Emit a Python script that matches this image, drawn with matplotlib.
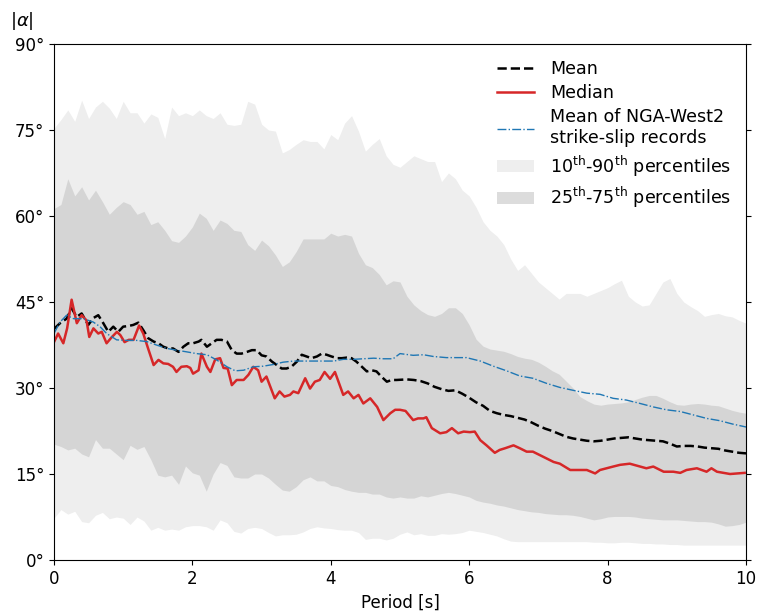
import numpy as np
import matplotlib
matplotlib.use("Agg")
import matplotlib.pyplot as plt
from matplotlib.ticker import FuncFormatter

# ---------------- data ----------------
band_T = np.round(np.arange(0, 10.001, 0.1), 1)

p90 = [75.3, 76.8, 78.5, 76.5, 80.2, 77.0, 79.0, 80.0, 78.8, 77.0,
       80.0, 78.0, 78.0, 76.2, 77.8, 77.2, 73.5, 79.0, 77.5, 78.0,
       77.5, 78.5, 77.5, 77.0, 78.0, 76.0, 75.8, 76.0, 80.0, 79.5,
       76.0, 75.0, 74.8, 71.0, 71.6, 72.5, 73.3, 73.0, 73.0, 71.7,
       74.2, 73.3, 76.2, 77.5, 74.8, 71.3, 72.5, 73.5, 70.5, 69.0,
       68.5, 69.5, 70.5, 70.0, 69.5, 69.5, 66.0, 67.5, 66.5, 64.5,
       63.5, 61.5, 59.0, 57.5, 56.5, 55.0, 52.5, 50.5, 51.5, 50.0,
       48.5, 47.5, 46.5, 45.5, 46.5, 46.5, 46.5, 46.0, 46.5, 47.0,
       47.5, 48.2, 48.8, 46.0, 45.0, 44.3, 44.5, 46.5, 48.5, 49.1,
       46.5, 45.0, 44.2, 43.5, 42.5, 42.8, 43.0, 42.6, 42.4, 41.8, 41.3]

p75 = [61.3, 62.0, 66.5, 63.5, 65.1, 62.8, 64.5, 62.5, 60.3, 61.5,
       62.5, 62.0, 60.3, 60.8, 58.5, 59.0, 57.5, 55.7, 55.4, 56.5,
       58.1, 60.5, 59.6, 57.5, 59.3, 58.7, 57.5, 57.3, 55.0, 54.0,
       55.8, 54.8, 53.2, 51.2, 52.0, 53.8, 56.0, 56.0, 56.0, 56.0,
       57.0, 56.5, 56.8, 56.5, 53.5, 51.5, 51.0, 49.8, 48.0, 48.7,
       48.5, 46.0, 44.5, 43.5, 42.8, 42.5, 43.0, 44.0, 44.0, 43.0,
       41.0, 38.5, 37.3, 36.8, 36.6, 36.4, 36.0, 35.5, 35.2, 35.0,
       34.5, 33.8, 33.0, 32.4, 31.2, 30.0, 28.5, 27.8, 27.2, 27.0,
       27.2, 27.3, 27.4, 27.6, 28.0, 28.4, 28.7, 28.7, 28.2, 27.6,
       27.1, 27.0, 27.2, 27.3, 27.2, 27.0, 26.9, 26.5, 26.1, 25.8, 25.6]

p25 = [20.2, 19.8, 19.2, 19.5, 18.5, 18.0, 21.0, 19.5, 19.5, 18.5,
       17.5, 20.0, 19.3, 19.8, 17.5, 14.8, 14.5, 14.8, 13.2, 16.4,
       15.2, 14.8, 12.0, 15.0, 17.0, 16.5, 14.5, 14.3, 14.3, 15.0,
       15.0, 14.3, 13.2, 12.2, 12.0, 12.8, 14.0, 14.5, 13.8, 13.8,
       13.0, 12.8, 12.3, 12.0, 11.8, 11.8, 11.5, 11.5, 11.0, 10.8,
       11.0, 10.8, 10.8, 11.2, 11.0, 11.3, 11.6, 11.8, 11.6, 11.3,
       11.0, 10.4, 10.1, 9.9, 9.6, 9.4, 9.1, 8.8, 8.6, 8.4,
       8.3, 8.1, 8.0, 7.9, 7.9, 7.8, 7.6, 7.3, 7.0, 7.2,
       7.5, 7.6, 7.6, 7.6, 7.5, 7.3, 7.2, 7.1, 7.0, 7.0,
       7.0, 6.9, 6.8, 6.7, 6.7, 6.6, 6.3, 5.9, 6.0, 6.2, 6.6]

p10 = [7.3, 8.8, 8.0, 8.5, 6.7, 6.5, 7.8, 8.3, 7.2, 7.5,
       7.3, 6.2, 7.5, 6.8, 5.2, 5.7, 5.2, 5.4, 5.2, 5.8,
       6.0, 6.0, 5.8, 5.2, 7.0, 6.5, 5.0, 4.7, 5.5, 5.7,
       5.5, 4.8, 4.2, 4.4, 4.4, 4.5, 4.9, 5.5, 5.8, 5.6,
       5.5, 5.3, 5.2, 5.2, 4.8, 3.6, 3.8, 3.8, 3.5, 3.8,
       4.5, 4.9, 4.4, 4.6, 4.3, 4.3, 4.6, 4.5, 4.6, 4.8,
       5.2, 5.0, 4.8, 4.5, 4.2, 3.7, 3.3, 3.2, 3.2, 3.2,
       3.2, 3.2, 3.2, 3.2, 3.2, 3.2, 3.2, 3.2, 3.1, 3.1,
       3.0, 3.0, 3.1, 3.1, 3.0, 2.9, 2.9, 2.8, 2.8, 2.7,
       2.7, 2.6, 2.6, 2.6, 2.6, 2.6, 2.6, 2.6, 2.6, 2.6, 2.6]

mean_T = [0.0, 0.087, 0.183, 0.255, 0.328, 0.40, 0.496, 0.568, 0.64, 0.713,
          0.785, 0.857, 0.93, 1.0, 1.07, 1.146, 1.22, 1.29, 1.36, 1.44,
          1.51, 1.58, 1.65, 1.72, 1.80, 1.87, 1.94, 2.01, 2.09, 2.13,
          2.21, 2.28, 2.35, 2.42, 2.50, 2.57, 2.64, 2.71, 2.79, 2.86,
          2.93, 3.0, 3.07, 3.15, 3.22, 3.29, 3.36, 3.43, 3.51, 3.58,
          3.65, 3.72, 3.80, 3.87, 3.94, 4.01, 4.09, 4.16, 4.23, 4.30,
          4.37, 4.45, 4.52, 4.59, 4.66, 4.73, 4.81, 4.88, 4.95,
          5.1, 5.2, 5.3, 5.4, 5.5, 5.6, 5.7, 5.8, 5.9, 6.0,
          6.1, 6.2, 6.3, 6.4, 6.5, 6.6, 6.7, 6.8, 6.9, 7.0,
          7.1, 7.2, 7.3, 7.4, 7.5, 7.6, 7.7, 7.8, 7.9, 8.0,
          8.1, 8.2, 8.3, 8.4, 8.5, 8.6, 8.7, 8.8, 8.9, 9.0,
          9.1, 9.2, 9.3, 9.4, 9.5, 9.6, 9.7, 9.8, 9.9, 10.0]
mean_v = [40.3, 41.3, 42.1, 43.9, 42.4, 43.0, 41.0, 42.2, 42.7, 41.3,
          39.8, 40.7, 39.8, 40.7, 40.8, 41.0, 41.4, 40.1, 38.7, 38.1,
          37.8, 37.2, 36.9, 36.9, 36.3, 37.2, 37.8, 37.8, 38.1, 38.4,
          37.2, 37.8, 38.4, 38.4, 38.1, 36.6, 36.0, 36.0, 36.3, 36.6,
          36.6, 35.7, 35.5, 34.6, 34.0, 33.4, 33.4, 33.7, 34.6, 35.8,
          35.5, 35.2, 35.5, 36.0, 35.8, 35.5, 35.2, 35.2, 35.3, 35.2,
          34.6, 33.7, 32.9, 33.1, 32.9, 32.0, 31.1, 31.4, 31.4,
          31.5, 31.4, 31.2, 30.8, 30.2, 29.8, 29.5, 29.6, 29.0, 28.3,
          27.5, 26.9, 26.0, 25.6, 25.3, 25.1, 24.8, 24.5, 24.0, 23.4,
          22.9, 22.5, 22.0, 21.5, 21.2, 21.0, 20.8, 20.7, 20.8, 21.0,
          21.2, 21.3, 21.4, 21.2, 21.0, 20.9, 20.8, 20.7, 20.3, 19.8,
          19.9, 19.9, 19.8, 19.6, 19.5, 19.4, 19.1, 18.9, 18.7, 18.6]

median_T = [0.0, 0.06, 0.135, 0.19, 0.255, 0.33, 0.40, 0.47, 0.51, 0.57,
            0.64, 0.69, 0.76, 0.83, 0.91, 0.96, 1.02, 1.08, 1.15, 1.23,
            1.29, 1.36, 1.44, 1.51, 1.58, 1.65, 1.72, 1.77, 1.84, 1.92,
            1.97, 2.01, 2.09, 2.13, 2.21, 2.26, 2.33, 2.40, 2.45, 2.51,
            2.57, 2.64, 2.74, 2.81, 2.88, 2.95, 3.00, 3.07, 3.19, 3.26,
            3.33, 3.41, 3.46, 3.53, 3.63, 3.70, 3.77, 3.84, 3.91, 3.99,
            4.06, 4.18, 4.25, 4.33, 4.40, 4.47, 4.57, 4.67, 4.76, 4.86,
            4.93, 5.0, 5.08, 5.19, 5.26, 5.34, 5.38, 5.46, 5.58, 5.67,
            5.75, 5.84, 5.92, 6.01, 6.08, 6.16, 6.25, 6.37, 6.44, 6.52,
            6.64, 6.73, 6.83, 6.92, 7.02, 7.12, 7.22, 7.31, 7.46, 7.70,
            7.82, 7.89, 8.08, 8.18, 8.32, 8.47, 8.56, 8.66, 8.81, 8.95,
            9.05, 9.14, 9.29, 9.43, 9.50, 9.58, 9.77, 9.98]
median_v = [38.0, 39.5, 37.8, 40.4, 45.4, 41.3, 42.7, 41.8, 38.9, 40.4,
            39.5, 39.8, 37.8, 38.8, 39.8, 39.2, 38.0, 38.4, 38.4, 40.9,
            39.5, 36.9, 34.0, 34.9, 34.3, 34.2, 33.7, 32.8, 33.7, 33.8,
            33.5, 32.5, 33.1, 36.0, 33.7, 32.8, 35.0, 35.2, 33.5, 33.4,
            30.5, 31.4, 31.4, 32.3, 33.7, 33.1, 31.1, 32.0, 28.2, 29.4,
            28.5, 28.8, 29.4, 29.1, 31.7, 29.9, 31.1, 31.4, 32.8, 31.6,
            32.8, 28.8, 29.4, 28.2, 28.8, 27.3, 28.2, 26.7, 24.4, 25.6,
            26.2, 26.2, 26.0, 24.4, 24.7, 24.7, 24.9, 23.0, 22.1, 22.3,
            23.0, 22.1, 22.4, 22.3, 22.4, 20.9, 20.0, 18.7, 19.2, 19.5,
            20.0, 19.5, 18.9, 18.9, 18.3, 17.7, 17.1, 16.8, 15.7, 15.7,
            15.1, 15.7, 16.3, 16.6, 16.8, 16.3, 16.0, 16.3, 15.4, 15.4,
            15.2, 15.7, 16.0, 15.4, 16.0, 15.4, 15.0, 15.2]

nga_T = [0.0, 0.087, 0.183, 0.28, 0.424, 0.568, 0.665, 0.761, 0.905, 1.05,
         1.195, 1.34, 1.48, 1.63, 1.77, 1.92, 2.06, 2.21, 2.35, 2.50,
         2.62, 2.74, 2.88, 3.02, 3.17, 3.31, 3.46, 3.60, 3.75, 3.89,
         4.04, 4.18, 4.33, 4.47, 4.62, 4.76, 4.90, 5.0, 5.19, 5.34,
         5.48, 5.67, 5.96, 6.16, 6.35, 6.54, 6.73, 6.92, 7.12, 7.31,
         7.50, 7.70, 7.89, 8.08, 8.27, 8.47, 8.66, 8.85, 9.05, 9.24,
         9.43, 9.62, 9.81, 10.0]
nga_v = [39.5, 41.5, 42.7, 42.1, 42.1, 41.5, 40.7, 39.5, 38.4, 38.3,
         38.3, 38.1, 37.5, 36.9, 36.6, 36.3, 36.0, 35.8, 34.9, 33.7,
         33.0, 33.1, 33.7, 33.8, 34.1, 34.5, 34.7, 34.7, 34.7, 34.7,
         34.7, 35.0, 35.0, 35.1, 35.2, 35.1, 35.1, 36.0, 35.7, 35.8,
         35.5, 35.3, 35.3, 34.7, 33.8, 33.0, 32.1, 31.7, 30.8, 30.1,
         29.6, 29.1, 28.9, 28.2, 27.9, 27.3, 26.7, 26.2, 25.9, 25.3,
         24.7, 24.3, 23.7, 23.2]

x_ticks = [0, 2, 4, 6, 8, 10]
y_ticks = [0, 15, 30, 45, 60, 75, 90]

# ---------------- plot ----------------
plt.rcParams['font.family'] = ['DejaVu Sans']
plt.rcParams['font.size'] = 12

fig = plt.figure(figsize=(7.57, 6.15), dpi=100)
ax = fig.add_axes([0.0713, 0.0894, 0.9142, 0.8391])

ax.fill_between(band_T, p10, p90, color='#eeeeee', lw=0,
                label='10$^{\\mathrm{th}}$-90$^{\\mathrm{th}}$ percentiles')
ax.fill_between(band_T, p25, p75, color='#c5c5c5', alpha=0.6, lw=0,
                label='25$^{\\mathrm{th}}$-75$^{\\mathrm{th}}$ percentiles')

ax.plot(mean_T, mean_v, color='black', ls='--', lw=1.8, label='Mean')
ax.plot(median_T, median_v, color='#d62728', ls='-', lw=1.8, label='Median')
ax.plot(nga_T, nga_v, color='#1f77b4', ls='-.', lw=1.0,
        label='Mean of NGA-West2\nstrike-slip records')

handles, labels = ax.get_legend_handles_labels()
order = [2, 3, 4, 0, 1]
ax.legend([handles[i] for i in order], [labels[i] for i in order],
          loc='upper right', frameon=False, fontsize=12.6,
          labelspacing=0.36, handletextpad=0.9, handlelength=2.1,
          bbox_to_anchor=(1.001, 1.0))

ax.set_xlim(0, 10)
ax.set_ylim(0, 90)
ax.set_xticks(x_ticks)
ax.set_yticks(y_ticks)
ax.yaxis.set_major_formatter(FuncFormatter(lambda v, p: f"{int(v)}°"))
ax.tick_params(axis='y', right=True)
ax.set_xlabel('Period [s]')
ax.text(-0.047, 1.045, '$|\\alpha|$', transform=ax.transAxes,
        ha='center', va='center', fontsize=13)

fig.savefig('out.png', dpi=100)
